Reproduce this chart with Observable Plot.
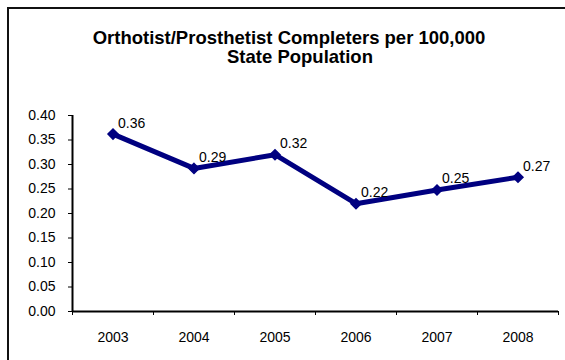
<!DOCTYPE html>
<html>
<head>
<meta charset="utf-8">
<script src="https://cdn.jsdelivr.net/npm/d3@7"></script>
<script src="https://cdn.jsdelivr.net/npm/@observablehq/plot@0.6"></script>
<style>
  html, body { margin: 0; padding: 0; background: #fff; overflow: hidden; }
  #wrap { position: relative; width: 565px; height: 360px; overflow: hidden; font-family: "Liberation Sans", Arial, sans-serif; }
  #frame { position: absolute; left: 7px; top: 7px; width: 600px; height: 400px; border-top: 2px solid #111; border-left: 2px solid #111; }
  #header { position: relative; height: 95px; }
  .t { position: absolute; font-weight: bold; font-size: 18.5px; color: #000; white-space: nowrap; transform: translateX(-50%); line-height: 1; }
  #chart { position: relative; }
</style>
</head>
<body>
<div id="wrap">
  <div id="frame"></div>
  <div id="header">
    <div class="t" id="t1" style="left:289px; top:29px;"></div>
    <div class="t" id="t2" style="left:300px; top:48px;"></div>
  </div>
  <div id="chart"></div>
</div>
<script>
const titleLines = ["Orthotist/Prosthetist Completers per 100,000", "State Population"];
const years = [2003, 2004, 2005, 2006, 2007, 2008];
const values = [0.362, 0.292, 0.320, 0.220, 0.248, 0.274];
const yTicks = [0, 0.05, 0.10, 0.15, 0.20, 0.25, 0.30, 0.35, 0.40];

document.getElementById("t1").textContent = titleLines[0];
document.getElementById("t2").textContent = titleLines[1];

const data = years.map((year, i) => ({year, value: values[i]}));
const boundaries = [years[0] - 0.5, ...years.map(y => y + 0.5)];
const navy = "#000080";

const chart = Plot.plot({
  width: 565,
  height: 265,
  marginLeft: 72,
  marginRight: 7,
  marginTop: 20,
  marginBottom: 49,
  style: {fontFamily: "'Liberation Sans', Arial, sans-serif", fontSize: "14px", color: "#000", background: "transparent"},
  x: {domain: [boundaries[0], boundaries[boundaries.length - 1]]},
  y: {domain: [0, 0.4]},
  marks: [
    Plot.axisY({ticks: yTicks, tickFormat: d3.format(".2f"), tickSize: 4, tickPadding: 13, tickStrokeWidth: 1.5, label: null, stroke: "#000"}),
    Plot.axisX({ticks: boundaries, tickFormat: () => "", tickSize: 4, tickStrokeWidth: 1.5, label: null}),
    Plot.axisX({ticks: years, tickFormat: d3.format("d"), tickSize: 0, tickPadding: 21, label: null}),
    Plot.ruleX([boundaries[0]], {y1: 0, y2: 0.4, stroke: "#000", strokeWidth: 2}),
    Plot.ruleY([0], {stroke: "#000", strokeWidth: 2}),
    Plot.line(data, {x: "year", y: "value", stroke: navy, strokeWidth: 5}),
    Plot.dot(data, {x: "year", y: "value", symbol: "diamond2", r: 4.5, fill: navy, stroke: navy}),
    Plot.text(data, {x: "year", y: "value", text: d => d3.format(".2f")(d.value), textAnchor: "start", dx: 5, dy: -11, fill: "#000", fontSize: 14})
  ]
});
document.getElementById("chart").appendChild(chart);
</script>
</body>
</html>
